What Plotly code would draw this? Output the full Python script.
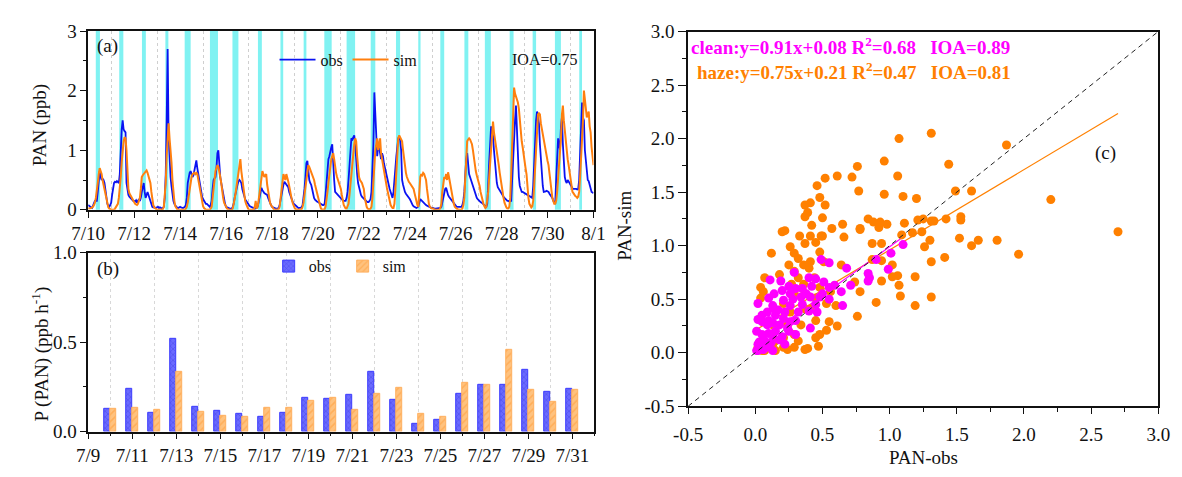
import numpy as np
import plotly.graph_objects as go

FONT = "Liberation Serif"
W, H = 1182, 477

# ---------------- (a) hourly PAN, 7/10 00:00 onwards (one row per day) ----------------
obs_pan = [
    0.08, 0.06, 0.05, 0.04, 0.03, 0.08, 0.14, 0.15, 0.15, 0.15, 0.3, 0.5, 0.65, 0.55, 0.5, 0.52, 0.5, 0.45, 0.3, 0.2, 0.1, 0.07, 0.05, 0.08,
    0.12, 0.25, 0.4, 0.45, 0.47, 0.46, 0.48, 0.47, 0.45, 0.6, 1.1, 1.35, 1.5, 1.35, 1.32, 1.3, 0.45, 0.3, 0.25, 0.22, 0.2, 0.18, 0.17, 0.15,
    0.15, 0.14, 0.16, 0.12, 0.15, 0.18, 0.15, 0.2, 0.3, 0.4, 0.45, 0.3, 0.2, 0.25, 0.3, 0.25, 0.2, 0.12, 0.06, 0.05, 0.04, 0.05, 0.03, 0.04,
    0.04, 0.05, 0.03, 0.04, 0.03, 0.02, 0.03, 0.05, 0.2, 0.6, 1.5, 2.7, 1.25, 0.85, 0.55, 0.4, 0.25, 0.15, 0.1, 0.06, 0.05, 0.04, 0.03, 0.04,
    0.05, 0.04, 0.03, 0.03, 0.04, 0.05, 0.08, 0.2, 0.45, 0.58, 0.62, 0.65, 0.6, 0.55, 0.58, 0.68, 0.78, 0.83, 0.7, 0.6, 0.45, 0.35, 0.28, 0.22,
    0.18, 0.15, 0.12, 0.1, 0.1, 0.08, 0.06, 0.05, 0.08, 0.15, 0.35, 0.5, 0.53, 0.55, 0.7, 0.95, 1.0, 0.7, 0.55, 0.45, 0.35, 0.25, 0.15, 0.1,
    0.05, 0.04, 0.03, 0.03, 0.02, 0.02, 0.02, 0.05, 0.1, 0.2, 0.3, 0.38, 0.42, 0.48, 0.5, 0.48, 0.45, 0.35, 0.28, 0.22, 0.18, 0.15, 0.12, 0.1,
    0.08, 0.06, 0.05, 0.04, 0.03, 0.03, 0.02, 0.02, 0.03, 0.05, 0.12, 0.22, 0.3, 0.37, 0.33, 0.3, 0.28, 0.27, 0.26, 0.25, 0.2, 0.15, 0.1, 0.08,
    0.05, 0.04, 0.03, 0.03, 0.02, 0.02, 0.02, 0.03, 0.08, 0.18, 0.28, 0.35, 0.42, 0.47, 0.45, 0.42, 0.4, 0.38, 0.3, 0.25, 0.2, 0.15, 0.12, 0.1,
    0.08, 0.06, 0.05, 0.04, 0.03, 0.03, 0.03, 0.04, 0.08, 0.2, 0.35, 0.55, 0.78, 0.82, 0.6, 0.5, 0.45, 0.42, 0.35, 0.25, 0.2, 0.17, 0.15, 0.14,
    0.13, 0.12, 0.1, 0.09, 0.08, 0.08, 0.08, 0.1, 0.25, 0.5, 0.7, 0.85, 0.9, 1.0, 1.05, 1.1, 0.7, 0.5, 0.3, 0.28, 0.26, 0.25, 0.24, 0.22,
    0.2, 0.18, 0.16, 0.15, 0.15, 0.15, 0.2, 0.3, 0.5, 0.8, 1.0, 1.2, 1.18, 1.22, 1.25, 1.1, 0.8, 0.6, 0.45, 0.38, 0.3, 0.25, 0.22, 0.2,
    0.18, 0.16, 0.15, 0.14, 0.13, 0.13, 0.15, 0.18, 0.3, 0.7, 1.1, 1.97, 1.5, 1.3, 0.9, 1.07, 1.05, 0.95, 0.85, 0.95, 0.9, 0.78, 0.7, 0.65,
    0.6, 0.5, 0.4, 0.35, 0.3, 0.25, 0.2, 0.3, 0.45, 0.7, 0.9, 1.05, 1.2, 1.2, 1.17, 1.0, 0.5, 0.42, 0.35, 0.3, 0.27, 0.25, 0.22, 0.2,
    0.18, 0.15, 0.1, 0.08, 0.06, 0.05, 0.04, 0.03, 0.04, 0.06, 0.12, 0.18, 0.16, 0.14, 0.12, 0.1, 0.09, 0.08, 0.07, 0.06, 0.05, 0.04, 0.03, 0.03,
    0.03, 0.02, 0.02, 0.02, 0.02, 0.02, 0.02, 0.02, 0.03, 0.05, 0.12, 0.22, 0.3, 0.35, 0.37, 0.3, 0.25, 0.22, 0.2, 0.18, 0.15, 0.12, 0.1, 0.08,
    0.06, 0.05, 0.05, 0.05, 0.05, 0.05, 0.05, 0.08, 0.15, 0.3, 0.6, 0.85, 0.95, 0.7, 0.6, 0.55, 0.5, 0.45, 0.4, 0.32, 0.28, 0.22, 0.2, 0.18,
    0.16, 0.15, 0.13, 0.12, 0.11, 0.1, 0.08, 0.06, 0.05, 0.1, 0.35, 0.8, 1.1, 1.4, 1.3, 1.25, 1.0, 0.8, 0.6, 0.45, 0.38, 0.35, 0.32, 0.3,
    0.28, 0.25, 0.22, 0.2, 0.18, 0.17, 0.15, 0.15, 0.14, 0.15, 0.15, 0.5, 0.9, 1.3, 1.5, 1.75, 1.3, 0.8, 0.55, 0.4, 0.35, 0.3, 0.3, 0.29,
    0.29, 0.28, 0.27, 0.26, 0.25, 0.24, 0.22, 0.21, 0.2, 0.4, 0.8, 1.2, 1.5, 1.65, 1.55, 1.45, 1.1, 0.8, 0.55, 0.4, 0.3, 0.3, 0.31, 0.32,
    0.31, 0.3, 0.27, 0.25, 0.22, 0.2, 0.15, 0.12, 0.1, 0.5, 0.9, 1.2, 1.1, 1.0, 1.4, 1.55, 1.1, 0.8, 0.55, 0.48, 0.45, 0.5, 0.48, 0.45,
    0.42, 0.38, 0.36, 0.35, 0.35, 0.36, 0.35, 0.34, 0.35, 0.5, 0.9, 1.3, 1.8, 1.55, 1.5, 1.0, 0.8, 0.55, 0.5, 0.48, 0.4, 0.35, 0.3, 0.29,
    0.28,
]

sim_pan = [
    0.02, 0.02, 0.02, 0.03, 0.04, 0.05, 0.08, 0.12, 0.2, 0.3, 0.45, 0.6, 0.7, 0.65, 0.6, 0.5, 0.42, 0.35, 0.25, 0.15, 0.08, 0.04, 0.02, 0.01,
    0.01, 0.0, 0.0, 0.0, 0.02, 0.04, 0.07, 0.1, 0.2, 0.35, 0.55, 0.8, 1.0, 1.15, 1.22, 1.2, 1.0, 0.55, 0.35, 0.28, 0.25, 0.22, 0.2, 0.15,
    0.12, 0.1, 0.09, 0.08, 0.1, 0.15, 0.2, 0.35, 0.55, 0.58, 0.6, 0.62, 0.64, 0.66, 0.62, 0.55, 0.5, 0.45, 0.3, 0.15, 0.08, 0.04, 0.02, 0.01,
    0.0, 0.0, 0.0, 0.0, 0.0, 0.0, 0.01, 0.05, 0.2, 0.45, 0.9, 1.3, 1.45, 1.2, 1.05, 0.8, 0.5, 0.3, 0.15, 0.06, 0.02, 0.01, 0.0, 0.0,
    0.0, 0.0, 0.0, 0.0, 0.0, 0.0, 0.02, 0.05, 0.12, 0.25, 0.38, 0.48, 0.55, 0.6, 0.62, 0.62, 0.6, 0.62, 0.6, 0.5, 0.4, 0.3, 0.2, 0.12,
    0.06, 0.03, 0.01, 0.0, 0.0, 0.0, 0.0, 0.0, 0.02, 0.05, 0.2, 0.4, 0.6, 0.65, 0.7, 0.75, 0.72, 0.65, 0.55, 0.45, 0.3, 0.2, 0.12, 0.08,
    0.04, 0.02, 0.01, 0.0, 0.0, 0.0, 0.0, 0.02, 0.08, 0.18, 0.28, 0.4, 0.5, 0.6, 0.75, 0.85, 0.65, 0.5, 0.35, 0.25, 0.15, 0.1, 0.05, 0.02,
    0.0, 0.0, 0.0, 0.0, 0.0, 0.0, 0.05, 0.15, 0.02, 0.05, 0.15, 0.3, 0.45, 0.58, 0.65, 0.6, 0.55, 0.58, 0.6, 0.42, 0.3, 0.2, 0.12, 0.08,
    0.05, 0.03, 0.01, 0.0, 0.0, 0.0, 0.0, 0.01, 0.05, 0.2, 0.35, 0.5, 0.6, 0.55, 0.5, 0.6, 0.55, 0.48, 0.4, 0.3, 0.2, 0.15, 0.1, 0.05,
    0.02, 0.01, 0.0, 0.0, 0.0, 0.0, 0.0, 0.01, 0.05, 0.12, 0.25, 0.4, 0.55, 0.7, 0.75, 0.72, 0.68, 0.62, 0.58, 0.55, 0.5, 0.42, 0.35, 0.3,
    0.22, 0.15, 0.08, 0.03, 0.0, 0.0, 0.0, 0.01, 0.05, 0.15, 0.3, 0.45, 0.6, 0.75, 0.85, 0.9, 0.95, 0.85, 0.7, 0.62, 0.55, 0.5, 0.45, 0.4,
    0.35, 0.25, 0.15, 0.08, 0.05, 0.02, 0.02, 0.05, 0.1, 0.25, 0.45, 0.65, 0.85, 1.0, 1.1, 1.2, 1.15, 0.9, 0.65, 0.55, 0.5, 0.48, 0.45, 0.4,
    0.35, 0.2, 0.1, 0.05, 0.02, 0.0, 0.0, 0.02, 0.05, 0.2, 0.5, 0.75, 1.0, 1.1, 1.2, 1.0, 1.15, 1.2, 0.95, 0.85, 0.75, 0.6, 0.5, 0.42,
    0.38, 0.3, 0.2, 0.12, 0.08, 0.05, 0.03, 0.03, 0.1, 0.35, 0.6, 0.9, 1.2, 1.25, 1.22, 1.2, 1.15, 1.0, 0.85, 0.75, 0.62, 0.55, 0.5, 0.47,
    0.45, 0.42, 0.4, 0.38, 0.35, 0.28, 0.2, 0.12, 0.08, 0.05, 0.3, 0.55, 0.6, 0.58, 0.62, 0.6, 0.55, 0.5, 0.35, 0.2, 0.1, 0.05, 0.03, 0.02,
    0.02, 0.01, 0.0, 0.0, 0.0, 0.0, 0.0, 0.0, 0.03, 0.1, 0.3, 0.5, 0.55, 0.52, 0.6, 0.5, 0.63, 0.55, 0.45, 0.35, 0.25, 0.15, 0.1, 0.05,
    0.03, 0.02, 0.01, 0.0, 0.0, 0.0, 0.0, 0.02, 0.08, 0.2, 0.5, 0.85, 1.15, 1.18, 1.2, 1.18, 1.15, 1.1, 1.0, 0.85, 0.72, 0.65, 0.58, 0.52,
    0.48, 0.4, 0.3, 0.22, 0.15, 0.1, 0.06, 0.03, 0.05, 0.15, 0.3, 0.55, 0.8, 1.1, 1.35, 1.48, 1.3, 1.2, 1.05, 0.95, 0.85, 0.75, 0.62, 0.5,
    0.4, 0.3, 0.2, 0.12, 0.07, 0.04, 0.02, 0.02, 0.05, 0.2, 0.6, 1.2, 1.7, 2.05, 1.95, 1.9, 1.85, 1.8, 1.7, 1.5, 1.25, 1.15, 1.05, 0.9,
    0.8, 0.7, 0.6, 0.35, 0.2, 0.1, 0.05, 0.04, 0.06, 0.15, 0.4, 0.75, 1.0, 1.3, 1.6, 1.62, 1.6, 1.45, 1.35, 1.25, 1.15, 1.05, 0.95, 0.88,
    0.82, 0.75, 0.6, 0.45, 0.3, 0.2, 0.15, 0.1, 0.1, 0.15, 0.3, 0.5, 0.7, 0.85, 1.2, 1.6, 1.75, 1.5, 1.3, 1.1, 1.0, 0.85, 0.75, 0.62,
    0.5, 0.4, 0.3, 0.28, 0.25, 0.23, 0.22, 0.2, 0.22, 0.3, 0.55, 0.85, 1.2, 1.5, 2.0, 1.8, 1.6, 1.55, 1.6, 1.65, 1.4, 1.3, 1.05, 0.85,
    0.75,
]

# shaded periods, in days after 7/10 00:00
band_start = [0.33, 1.35, 2.34, 3.36, 4.20, 5.30, 6.28, 7.39, 8.37, 9.38, 10.28,
              11.25, 12.30, 13.40, 14.37, 15.33, 16.38, 17.27, 18.35, 19.35, 20.32, 21.38]
band_end = [0.51, 1.53, 2.51, 3.49, 4.46, 5.65, 6.54, 7.56, 8.49, 9.50, 10.60,
            11.62, 12.50, 13.58, 14.47, 15.50, 16.55, 17.53, 18.52, 19.50, 20.58, 21.50]

ts_ticktext = ["7/10", "7/12", "7/14", "7/16", "7/18", "7/20",
               "7/22", "7/24", "7/26", "7/28", "7/30", "8/1"]

# ---------------- (b) daily P(PAN), 7/10 .. 7/31 ----------------
rate_dates = ["7/10", "7/11", "7/12", "7/13", "7/14", "7/15", "7/16", "7/17", "7/18", "7/19", "7/20",
              "7/21", "7/22", "7/23", "7/24", "7/25", "7/26", "7/27", "7/28", "7/29", "7/30", "7/31"]
obs_rate = [0.13, 0.24, 0.103, 0.517, 0.137, 0.115, 0.10, 0.082, 0.103, 0.19, 0.185,
            0.204, 0.334, 0.178, 0.043, 0.064, 0.213, 0.259, 0.259, 0.346, 0.222, 0.24]
sim_rate = [0.13, 0.135, 0.123, 0.332, 0.108, 0.09, 0.082, 0.133, 0.135, 0.17, 0.19,
            0.121, 0.213, 0.245, 0.10, 0.083, 0.274, 0.261, 0.458, 0.231, 0.169, 0.236]
rate_ticktext = ["7/9", "7/11", "7/13", "7/15", "7/17", "7/19",
                 "7/21", "7/23", "7/25", "7/27", "7/29", "7/31"]

# ---------------- (c) scatter: haze and clean hours ----------------
haze_obs = [1.31, 1.07, 1.87, 0.96, 1.44, 0.76, 0.61, 0.72, 1.06, 0.52, 0.46, 0.77, 0.96, 1.49, 1.61,
            1.10, 1.20, 0.48, 2.20, 0.41, 0.37, 0.52, 0.39, 0.37, 0.50, 0.42, 0.57, 0.65, 0.22, 0.78,
            0.84, 0.88, 0.93, 0.98, 0.92, 1.11, 1.21, 1.25, 1.31, 1.33, 1.42, 1.53, 1.53, 1.24, 2.70,
            0.33, 0.41, 0.50, 0.66, 0.20, 0.26, 0.37, 0.45, 0.49, 0.78, 0.87, 0.94, 1.09, 1.17, 1.52,
            1.61, 1.66, 1.80, 1.96, 1.26, 1.30, 1.31, 1.41, 0.12, 0.29, 0.32, 0.41, 0.48, 0.51, 0.64,
            0.87, 0.94, 1.02, 1.02, 1.06, 1.07, 1.08, 1.19, 1.19, 1.31, 0.90, 0.94, 0.78, 0.76, 0.74,
            0.60, 0.53, 0.61, 0.55, 0.47, 0.39, 0.48, 0.45, 0.07, 0.04, 0.04, 0.18, 0.06, 0.25, 0.29,
            0.36, 0.40, 0.29, 0.37, 0.41, 0.45, 0.53, 0.56, 0.34, 0.32, 0.24, 0.15, 0.07, 0.37, 0.45,
            0.21, 0.13, 0.13, 0.05, 0.02, 0.26, 0.21, 0.32, 0.27, 0.36, 0.44, 0.24, 0.37, 0.48, 0.29,
            0.15, 0.21, 0.29]
haze_sim = [2.05, 2.00, 1.94, 1.79, 1.76, 1.74, 1.65, 1.64, 1.65, 1.63, 1.56, 1.51, 1.48, 1.51, 1.51,
            1.46, 1.44, 1.45, 1.43, 1.40, 1.38, 1.38, 1.31, 1.27, 1.26, 1.19, 1.16, 1.20, 1.14, 1.16,
            1.25, 1.22, 1.22, 1.20, 1.17, 1.21, 1.24, 1.25, 1.23, 1.23, 1.25, 1.27, 1.24, 1.13, 1.13,
            1.09, 1.09, 1.09, 1.08, 1.13, 0.99, 1.02, 1.03, 1.09, 1.15, 1.02, 1.02, 1.10, 1.12, 1.07,
            1.00, 1.05, 1.05, 0.92, 0.99, 1.05, 0.85, 0.89, 0.93, 0.93, 0.88, 0.85, 0.94, 0.85, 0.82,
            0.87, 0.86, 0.82, 0.71, 0.72, 0.63, 0.53, 0.71, 0.44, 0.52, 0.47, 0.67, 0.57, 0.34, 0.66,
            0.44, 0.21, 0.25, 0.29, 0.06, 0.04, 0.17, 0.30, 0.70, 0.61, 0.51, 0.73, 0.57, 0.82, 0.76,
            0.82, 0.79, 0.55, 0.55, 0.41, 0.51, 0.46, 0.57, 0.26, 0.11, 0.03, 0.02, 0.02, 0.03, 0.14,
            0.14, 0.26, 0.08, 0.02, 0.05, 0.38, 0.46, 0.70, 0.64, 0.64, 0.70, 0.26, 0.41, 0.61, 0.17,
            0.11, 0.05, 0.05]

clean_obs = [0.49, 0.55, 0.68, 0.84, 0.84, 0.85, 1.01, 1.10, 0.99, 0.90, 0.71, 0.64, 0.65, 0.59, 0.51,
             0.45, 0.40, 0.29, 0.19, 0.11, 0.02, 0.02, 0.10, 0.14, 0.21, 0.26, 0.34, 0.41, 0.48, 0.55,
             0.40, 0.46, 0.41, 0.30, 0.24, 0.32, 0.15, 0.09, 0.05, 0.07, 0.13, 0.18, 0.02, 0.01, 0.06,
             0.13, 0.21, 0.26, 0.09, 0.05, 0.01, 0.10, 0.18, 0.22, 0.13, 0.26, 0.03, 0.08, 0.12, 0.15,
             0.20, 0.25, 0.10, 0.05, 0.17, 0.22, 0.30, 0.35, 0.28, 0.30, 0.25, 0.35, 0.42, 0.45, 0.50,
             0.55, 0.38, 0.20, 0.14, 0.02, 0.06, 0.10, 0.13]
clean_sim = [0.87, 0.84, 0.79, 0.74, 0.67, 0.70, 0.93, 1.01, 0.78, 0.87, 0.63, 0.57, 0.44, 0.63, 0.66,
             0.69, 0.70, 0.75, 0.67, 0.68, 0.46, 0.31, 0.51, 0.41, 0.49, 0.55, 0.52, 0.52, 0.52, 0.61,
             0.39, 0.38, 0.23, 0.17, 0.23, 0.38, 0.35, 0.26, 0.17, 0.11, 0.17, 0.26, 0.08, 0.02, 0.03,
             0.02, 0.32, 0.29, 0.38, 0.29, 0.20, 0.08, 0.12, 0.08, 0.44, 0.44, 0.10, 0.05, 0.10, 0.20,
             0.15, 0.20, 0.30, 0.35, 0.40, 0.38, 0.30, 0.45, 0.50, 0.60, 0.62, 0.60, 0.62, 0.45, 0.55,
             0.50, 0.55, 0.58, 0.55, 0.02, 0.12, 0.18, 0.28]

# regression fits quoted in the panel text
clean_slope, clean_icpt, clean_r2, clean_ioa = 0.91, 0.08, 0.68, 0.89
haze_slope, haze_icpt, haze_r2, haze_ioa = 0.75, 0.21, 0.47, 0.81
clean_fit_x = [0.0, 1.1]
haze_fit_x = [0.0, 2.7]
ts_ioa = 0.75

# ---------------- colours ----------------
C_OBS = "#0a12f2"
C_SIM = "#ff7f0e"
C_BAND = "#80f2f2"
C_HAZE = "#ff8000"
C_CLEAN = "#ff00ff"
INK = "#111111"


def px(x):
    return x / W


def py(y):
    return 1 - y / H


fig = go.Figure()

# ---- (a) time series ----
t_days = np.arange(len(obs_pan)) / 24.0
for s, e in zip(band_start, band_end):
    fig.add_shape(type="rect", xref="x", yref="y domain", x0=s, x1=e, y0=0, y1=1,
                  fillcolor=C_BAND, line_width=0, layer="below")

fig.add_trace(go.Scatter(x=t_days, y=obs_pan, mode="lines", name="obs",
                         line=dict(color=C_OBS, width=1.8), xaxis="x", yaxis="y", legend="legend"))
fig.add_trace(go.Scatter(x=t_days, y=sim_pan, mode="lines", name="sim",
                         line=dict(color=C_SIM, width=2), xaxis="x", yaxis="y", legend="legend"))

# ---- (b) bars ----
bar_pos = np.arange(1, len(rate_dates) + 1)
BW = 0.27
fig.add_trace(go.Bar(x=bar_pos, y=obs_rate, width=BW, offset=-BW, name="obs",
                     marker=dict(color="#5c5cff", line=dict(color="#3c3cff", width=1),
                                 pattern=dict(shape="x", fgcolor="#2a2ad0", bgcolor="#6a6aff",
                                              size=4, solidity=0.25)),
                     xaxis="x2", yaxis="y2", legend="legend2"))
fig.add_trace(go.Bar(x=bar_pos, y=sim_rate, width=BW, offset=0, name="sim",
                     marker=dict(color="#ffb868", line=dict(color="#ffb060", width=1),
                                 pattern=dict(shape="/", fgcolor="#ff9a33", bgcolor="#ffc27e",
                                              size=5, solidity=0.3)),
                     xaxis="x2", yaxis="y2", legend="legend2"))

# ---- (c) scatter ----
hx = np.array(haze_fit_x)
cx = np.array(clean_fit_x)
fig.add_trace(go.Scatter(x=hx, y=haze_slope * hx + haze_icpt, mode="lines",
                         line=dict(color=C_HAZE, width=1.2), showlegend=False, xaxis="x3", yaxis="y3"))
fig.add_trace(go.Scatter(x=cx, y=clean_slope * cx + clean_icpt, mode="lines",
                         line=dict(color=C_CLEAN, width=1.2), showlegend=False, xaxis="x3", yaxis="y3"))
fig.add_trace(go.Scatter(x=haze_obs, y=haze_sim, mode="markers", showlegend=False,
                         marker=dict(color=C_HAZE, size=9, line_width=0), xaxis="x3", yaxis="y3"))
fig.add_trace(go.Scatter(x=clean_obs, y=clean_sim, mode="markers", showlegend=False,
                         marker=dict(color=C_CLEAN, size=9, line_width=0), xaxis="x3", yaxis="y3"))
fig.add_trace(go.Scatter(x=[-0.5, 3.0], y=[-0.5, 3.0], mode="lines", showlegend=False,
                         line=dict(color="#222222", width=1, dash="5px,4px"), xaxis="x3", yaxis="y3"))

# ---- axes ----
TICKF = dict(family=FONT, size=19, color=INK)
frame = dict(showline=True, linecolor=INK, linewidth=1.5, mirror=True, showgrid=False,
             zeroline=False, ticks="outside", tickcolor=INK, tickwidth=1.2, tickfont=TICKF)

fig.update_layout(
    xaxis=dict(**frame, domain=[px(73), px(591)], anchor="y", range=[0, 22],
               tickmode="array", tickvals=list(range(0, 23, 2)), ticktext=ts_ticktext, ticklen=6,
               minor=dict(tickmode="array", tickvals=list(range(1, 22, 2)), ticks="outside", ticklen=3,
                          tickcolor=INK, showgrid=True, gridcolor="#cfcfcf", griddash="dot", gridwidth=1)),
    yaxis=dict(**frame, domain=[py(209), py(22)], anchor="x", range=[0, 3],
               tickmode="array", tickvals=[0, 1, 2, 3], ticklen=6,
               minor=dict(tickmode="array", tickvals=[0.5, 1.5, 2.5], ticks="outside", ticklen=3, tickcolor=INK)),
    xaxis2=dict(**frame, domain=[px(73), px(592)], anchor="y2", range=[0, 23],
                tickmode="array", tickvals=list(range(0, 23, 2)), ticktext=rate_ticktext, ticklen=6,
                minor=dict(tickmode="array", tickvals=list(range(1, 24, 2)), ticks="outside", ticklen=3,
                           tickcolor=INK, showgrid=True, gridcolor="#d8d8d8", griddash="dot", gridwidth=1)),
    yaxis2=dict(**frame, domain=[py(441), py(254)], anchor="x2", range=[0, 1],
                tickmode="array", tickvals=[0, 0.5, 1.0], ticktext=["0.0", "0.5", "1.0"], ticklen=6,
                minor=dict(tickmode="array", tickvals=[0.25, 0.75], ticks="outside", ticklen=3, tickcolor=INK)),
    xaxis3=dict(**frame, domain=[px(688), px(1170)], anchor="y3", range=[-0.5, 3.0],
                tickmode="array", tickvals=[-0.5, 0, 0.5, 1, 1.5, 2, 2.5, 3],
                ticktext=["-0.5", "0.0", "0.5", "1.0", "1.5", "2.0", "2.5", "3.0"], ticklen=6,
                ticklabelstandoff=4,
                minor=dict(tickmode="array", tickvals=[-0.25, 0.25, 0.75, 1.25, 1.75, 2.25, 2.75],
                           ticks="outside", ticklen=4, tickcolor=INK)),
    yaxis3=dict(**frame, domain=[py(414.5), py(22.5)], anchor="x3", range=[-0.5, 3.0],
                tickmode="array", tickvals=[-0.5, 0, 0.5, 1, 1.5, 2, 2.5, 3],
                ticktext=["-0.5", "0.0", "0.5", "1.0", "1.5", "2.0", "2.5", "3.0"], ticklen=8,
                minor=dict(tickmode="array", tickvals=[-0.25, 0.25, 0.75, 1.25, 1.75, 2.25, 2.75],
                           ticks="outside", ticklen=4, tickcolor=INK)),
)

LEGF = dict(family=FONT, size=16, color=INK)
fig.update_layout(
    legend=dict(orientation="h", x=px(264), y=py(52), xanchor="left", yanchor="middle",
                bgcolor="rgba(0,0,0,0)", font=LEGF, entrywidth=22, itemwidth=36),
    legend2=dict(orientation="h", x=px(258), y=py(268), xanchor="left", yanchor="middle",
                 bgcolor="rgba(0,0,0,0)", font=LEGF, entrywidth=29),
)

# ---- text ----
def note(x, y, text, size=19, color=INK, xanchor="center", angle=0):
    fig.add_annotation(x=px(x), y=py(y), xref="paper", yref="paper", text=text, showarrow=False,
                       xanchor=xanchor, yanchor="middle", textangle=angle,
                       font=dict(family=FONT, size=size, color=color))


note(80, 38, "(a)", xanchor="left")
note(541, 52, f"IOA={ts_ioa:.2f}", size=16)
note(80, 271, "(b)", xanchor="left")
note(1116, 150, "(c)")
note(23, 120, "PAN (ppb)", angle=-90)
note(24, 360, "P (PAN) (ppb h<sup>-1</sup>)", angle=-90)
note(622, 226, "PAN-sim", angle=-90)
note(929, 468, "PAN-obs")

sp = "\u00a0" * 3
note(689, 38, f"<b>clean:y={clean_slope:.2f}x+{clean_icpt:.2f} R<sup>2</sup>={clean_r2:.2f}{sp}IOA={clean_ioa:.2f}</b>",
     color=C_CLEAN, xanchor="left")
note(695, 64, f"<b>haze:y={haze_slope:.2f}x+{haze_icpt:.2f} R<sup>2</sup>={haze_r2:.2f}{sp}IOA={haze_ioa:.2f}</b>",
     color=C_HAZE, xanchor="left")

fig.update_layout(width=W, height=H, margin=dict(l=0, r=0, t=0, b=0),
                  plot_bgcolor="white", paper_bgcolor="white",
                  font=dict(family=FONT, color=INK), bargap=0, showlegend=True)

fig.write_html("out.html")
